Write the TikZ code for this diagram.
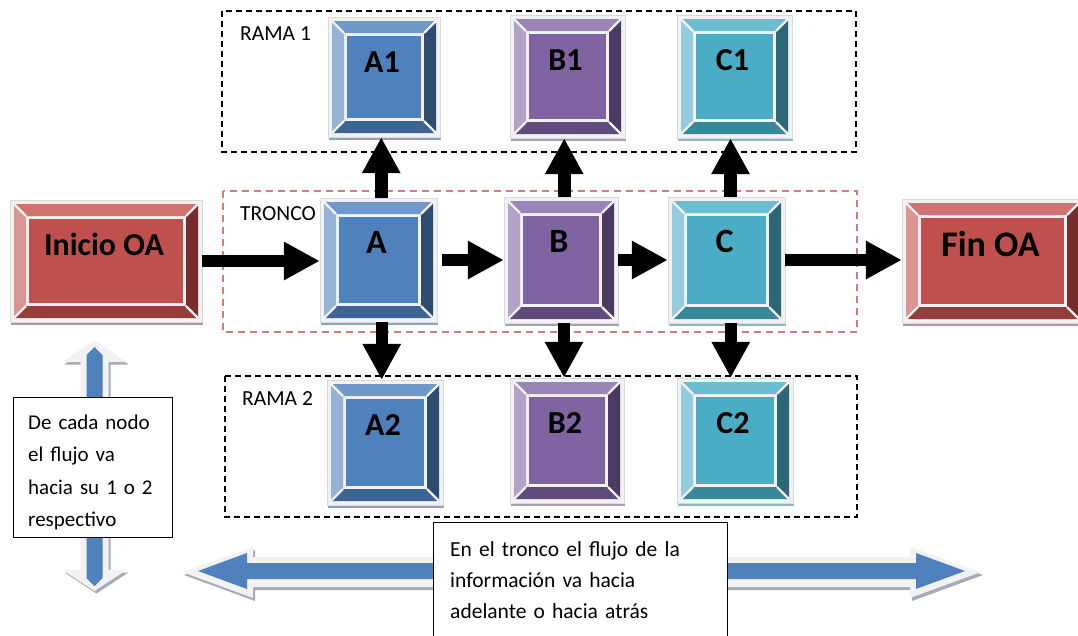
\documentclass[tikz,border=0pt]{standalone}
\usepackage{fontspec}
\setmainfont{Carlito}
\usetikzlibrary{arrows.meta,calc,fit}
\definecolor{frm}{HTML}{F2F2F2}
\definecolor{frmedge}{HTML}{DADADA}
\definecolor{aF}{HTML}{4F81BD}\definecolor{aL}{HTML}{95B3D7}\definecolor{aT}{HTML}{6F98CB}
\definecolor{aR}{HTML}{2E4C72}\definecolor{aB}{HTML}{3C6595}\definecolor{aS}{HTML}{8FA3BF}
\definecolor{bF}{HTML}{8064A2}\definecolor{bL}{HTML}{B3A2C7}\definecolor{bT}{HTML}{9B84B8}
\definecolor{bR}{HTML}{4B3A62}\definecolor{bB}{HTML}{5F4A7C}\definecolor{bS}{HTML}{A99FB6}
\definecolor{cF}{HTML}{4BACC6}\definecolor{cL}{HTML}{93CDDD}\definecolor{cT}{HTML}{6DBDD2}
\definecolor{cR}{HTML}{2C6677}\definecolor{cB}{HTML}{388899}\definecolor{cS}{HTML}{8FB5C0}
\definecolor{rF}{HTML}{C0504D}\definecolor{rL}{HTML}{DA9694}\definecolor{rT}{HTML}{D07270}
\definecolor{rR}{HTML}{772D2B}\definecolor{rB}{HTML}{953D3B}\definecolor{rS}{HTML}{B79393}
\definecolor{arrblue}{HTML}{4F81BD}
\definecolor{arrshadow}{HTML}{A3ABB6}
\definecolor{tronco}{HTML}{D77B78}
\tikzset{
  boxtxt/.style={font=\bfseries\fontsize{32}{38}\selectfont, inner sep=0pt},
  lbl/.style={font=\fontsize{21.5}{25}\selectfont, inner sep=0pt, anchor=west},
  notetxt/.style={inner sep=0pt, align=left, anchor=base west},
  notebox/.style={draw=black, line width=0.9pt, fill=white, inner sep=0pt},
  flow/.style={line width=12.5pt, -{Triangle[width=36pt,length=36pt]}},
  grp/.style={line width=1.7pt, dash pattern=on 6pt off 4pt},
}
\newcommand\bevbox[7]{%
  \fill[#6S] (#2+1,#3+2.5) rectangle (#4+1,#5+2.5);
  \fill[frm] (#2,#3) rectangle (#4,#5);
  \draw[frmedge, line width=0.5pt] (#2,#3) rectangle (#4,#5);
  \fill[#6T] (#2+4,#3+4) -- (#4-4,#3+4) -- (#4-16,#3+16) -- (#2+16,#3+16) -- cycle;
  \fill[#6B] (#2+4,#5-4) -- (#4-4,#5-4) -- (#4-16,#5-16) -- (#2+16,#5-16) -- cycle;
  \fill[#6L] (#2+4,#3+4) -- (#2+16,#3+16) -- (#2+16,#5-16) -- (#2+4,#5-4) -- cycle;
  \fill[#6R] (#4-4,#3+4) -- (#4-16,#3+16) -- (#4-16,#5-16) -- (#4-4,#5-4) -- cycle;
  \draw[frm, line width=2.2pt] (#2+4,#3+4) -- (#2+16,#3+16) (#4-4,#3+4) -- (#4-16,#3+16)
     (#2+4,#5-4) -- (#2+16,#5-16) (#4-4,#5-4) -- (#4-16,#5-16);
  \fill[#6F] (#2+19,#3+19) rectangle (#4-19,#5-19);
  \node[fit={(#2,#3) (#4,#5)}, inner sep=0pt] (#1) {};
  \node[boxtxt] (#1-t) at ($(#1.north)+(-2,45)$) {#7};
}
\newcommand\bigletter{\fontsize{34}{40}\selectfont}
\begin{document}
\begin{tikzpicture}[x=1pt,y=-1pt]
\useasboundingbox (0,0) rectangle (1078,635);
% group frames
\draw[grp, black] (222,11) rectangle (856,152);
\draw[grp, tronco, line width=1.4pt, dash pattern=on 7pt off 5pt] (223,191) rectangle (857,332);
\draw[grp, black] (225,376) rectangle (857,517);
\node[lbl] (rama1) at (240,34) {RAMA 1};
\node[lbl] (troncolbl) at (240,214) {TRONCO};
\node[lbl] (rama2) at (242,399) {RAMA 2};
% boxes
\bevbox{Inicio}{10}{200}{202}{322}{r}{Inicio OA}
\bevbox{A}{320}{198}{437}{322}{a}{\bigletter A}
\bevbox{B}{504}{197}{618}{323}{b}{\bigletter B}
\bevbox{C}{668}{197}{785}{323}{c}{\bigletter C}
\bevbox{Fin}{902}{199}{1083}{323}{r}{\fontsize{36}{42}\selectfont Fin OA}
\bevbox{A1}{328}{17}{440}{137}{a}{A1}
\bevbox{B1}{510}{15}{625}{138}{b}{B1}
\bevbox{C1}{677}{15}{792}{138}{c}{C1}
\bevbox{A2}{327}{380}{443}{505}{a}{A2}
\bevbox{B2}{510}{378}{624}{503}{b}{B2}
\bevbox{C2}{677}{378}{793}{503}{c}{C2}
% trunk arrows
\draw[flow] (Inicio.east) -- (Inicio.east -| A.west);
\draw[flow, shorten <=5pt] (A.east) -- (B.west);
\draw[flow] (B.east) -- (C.west);
\draw[flow] (C.east) -- (C.east -| Fin.west);
% branch arrows
\foreach \n in {A,B,C}{
  \coordinate (\n up) at ($(\n.center)!.5!(\n1.center)$);
  \coordinate (\n dn) at ($(\n.center)!.5!(\n2.center)$);
  \draw[flow] (\n up |- \n.north) -- (\n up |- \n1.south);
  \draw[flow] (\n dn |- \n.south) -- (\n dn |- \n2.north);
}
% vertical double block arrow
\fill[arrshadow] (96.5,342.5) -- (128.5,364.5) -- (110.5,364.5) -- (110.5,572.5) -- (128.5,572.5) -- (96.5,593.5) -- (64.5,572.5) -- (82.5,572.5) -- (82.5,364.5) -- (64.5,364.5) -- cycle;
\fill[frm] (94.5,340) -- (126.5,362) -- (108.5,362) -- (108.5,570) -- (126.5,570) -- (94.5,591) -- (62.5,570) -- (80.5,570) -- (80.5,362) -- (62.5,362) -- cycle;
\fill[arrblue] (94.5,347) -- (102.5,355) -- (102.5,578) -- (94.5,586) -- (86.5,578) -- (86.5,355) -- cycle;
% horizontal double block arrow
\fill[arrshadow] (184,575) -- (255,550) -- (255,560) -- (912,560) -- (912,550) -- (983,575) -- (912,601) -- (912,590) -- (255,590) -- (255,601) -- cycle;
\fill[frm] (182,572) -- (253,547) -- (253,557) -- (910,557) -- (910,547) -- (981,572) -- (910,598) -- (910,587) -- (253,587) -- (253,598) -- cycle;
\fill[arrblue] (198,571) -- (247,553) -- (247,563) -- (916,563) -- (916,553) -- (965,571) -- (916,589) -- (916,579) -- (247,579) -- (247,589) -- cycle;
% notes
\node[notebox, fit={(13,397) (172,537)}] (note1) {};
\node[notetxt, text width=140pt, font=\fontsize{21}{32.5}\selectfont] (note1-t) at (28,429) {De cada nodo\\el flujo va\\hacia su 1 o 2\\respectivo};
\node[notebox, fit={(433,522) (727,650)}] (note2) {};
\node[notetxt, text width=270pt, font=\fontsize{21.5}{31}\selectfont] (note2-t) at (450,556) {En el tronco el flujo de la\\información va hacia\\adelante o hacia atrás};
\end{tikzpicture}
\end{document}
